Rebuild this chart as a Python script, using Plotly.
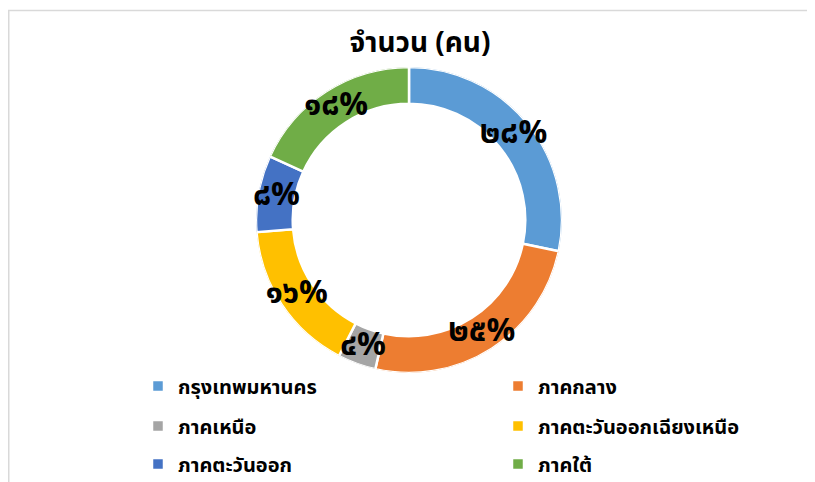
import plotly.graph_objects as go

categories = ["กรุงเทพมหานคร", "ภาคกลาง", "ภาคเหนือ", "ภาคตะวันออกเฉียงเหนือ", "ภาคตะวันออก", "ภาคใต้"]
values = [28, 25, 4, 16, 8, 18]
labels_text = ["๒๘%", "๒๕%", "๔%", "๑๖%", "๘%", "๑๘%"]
colors = ["#5B9BD5", "#ED7D31", "#A5A5A5", "#FFC000", "#4472C4", "#70AD47"]

W, H = 815, 482
# the page body adds an 8px offset, so figure coords = screen coords - 8
cx, cy, R = 401, 212, 153
HOLE = 0.76
FONT = "Noto Sans Thai, Noto Sans, sans-serif"

total = float(sum(values))
widths = [360.0 * v / total for v in values]
mids = []
acc = 0.0
for w in widths:
    mids.append(acc + w / 2.0)
    acc += w

fig = go.Figure()

leg_x = [130, 490]
leg_y = [378, 418, 456]
layout_legends = {}
for i, (cat, col) in enumerate(zip(categories, colors)):
    key = "legend" if i == 0 else "legend%d" % (i + 1)
    fig.add_trace(go.Barpolar(
        theta=[mids[i]], width=[widths[i]], r=[1 - HOLE], base=[HOLE],
        name=cat, marker=dict(color=col, line=dict(color="white", width=2.5)),
        legend=key, showlegend=True, hovertemplate=cat + "<extra></extra>",
    ))
    layout_legends[key] = dict(
        x=leg_x[i % 2] / W, xanchor="left",
        y=1 - leg_y[i // 2] / H, yanchor="middle",
        font=dict(size=20, color="black", family=FONT, weight="bold"),
        bgcolor="rgba(0,0,0,0)",
    )

fig.add_trace(go.Scatterpolar(
    theta=mids, r=[(1 + HOLE) / 2] * len(values), mode="text",
    text=labels_text, textposition="middle center",
    textfont=dict(size=32, color="black", family=FONT, weight="bold"),
    cliponaxis=False, showlegend=False, hoverinfo="skip",
))

fig.update_layout(
    width=W, height=H,
    margin=dict(l=0, r=0, t=0, b=0, autoexpand=False),
    paper_bgcolor="white",
    font=dict(family=FONT, color="black"),
    title=dict(text="<b>จำนวน (คน)</b>", x=412 / W, xanchor="center", y=1 - 34.5 / H, yanchor="middle",
               font=dict(size=28, color="black")),
    polar=dict(
        domain=dict(x=[(cx - R) / W, (cx + R) / W], y=[1 - (cy + R) / H, 1 - (cy - R) / H]),
        bgcolor="rgba(0,0,0,0)",
        bargap=0,
        radialaxis=dict(range=[0, 1], visible=False, showgrid=False),
        angularaxis=dict(rotation=90, direction="clockwise", visible=False, showgrid=False),
    ),
    shapes=[
        dict(type="line", xref="paper", yref="paper", x0=0, x1=1, y0=1 - 2.5 / H, y1=1 - 2.5 / H,
             line=dict(color="#d9d9d9", width=1.5)),
        dict(type="line", xref="paper", yref="paper", x0=0.75 / W, x1=0.75 / W, y0=0, y1=1 - 2.5 / H,
             line=dict(color="#d9d9d9", width=1.5)),
    ],
    **layout_legends,
)

fig.write_html("out.html")
